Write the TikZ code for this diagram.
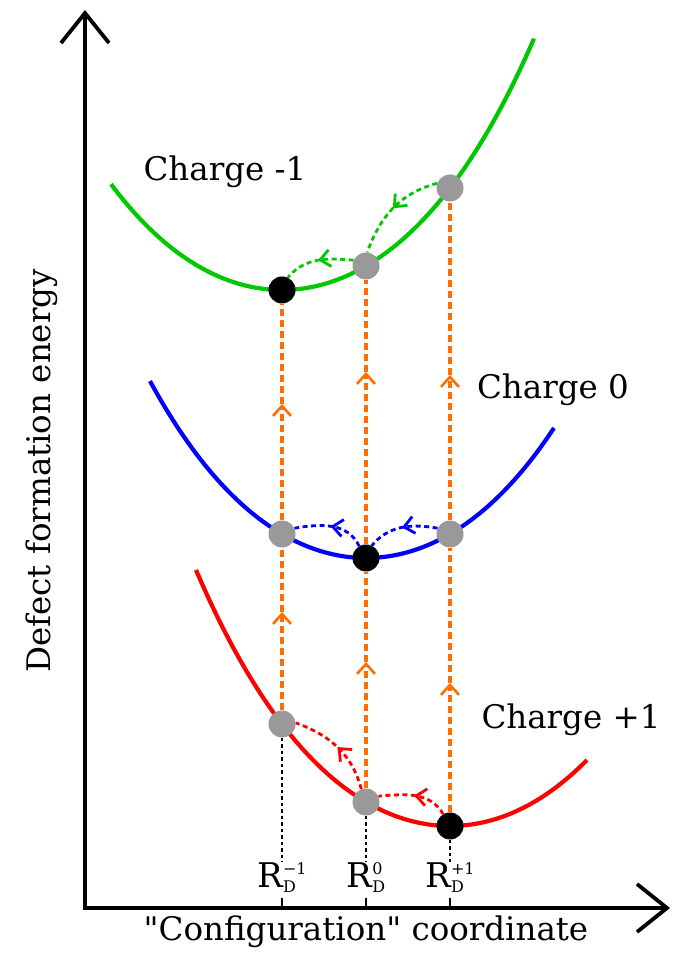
\documentclass[tikz,border=0pt]{standalone}
\usepackage{fontspec}
\setmainfont{DejaVu Serif}[Ligatures=TeXOff]
\usetikzlibrary{arrows.meta,decorations.markings}
\pgfdeclarelayer{bg}
\pgfsetlayers{bg,main}
\definecolor{cgreen}{RGB}{0,200,0}
\definecolor{cblue}{RGB}{0,0,255}
\definecolor{cred}{RGB}{255,0,0}
\definecolor{corange}{RGB}{255,110,0}
\definecolor{cgrey}{RGB}{153,153,153}
\newcommand{\rdl}[1]{R\raisebox{-5pt}{\fontsize{16}{16}\selectfont\shortstack[l]{#1\\[4pt]D}}}
\begin{document}
\begin{tikzpicture}[x=1pt,y=1pt,
 dotk/.style={circle,fill=black,minimum size=27pt,inner sep=0pt},
 dotg/.style={circle,fill=cgrey,minimum size=27pt,inner sep=0pt},
 curve/.style={line width=4.2pt},
 axisln/.style={line width=3.8pt,line join=miter,{Straight Barb[length=30pt,width=48pt]}-{Straight Barb[length=30pt,width=48pt]}},
 odash/.style={corange,line width=3.6pt,dash pattern=on 7pt off 4pt},
 otip/.style={-{Straight Barb[length=10pt,width=18pt,line width=2.6pt]}},
 cdot/.style={line width=2.8pt,dash pattern=on 5pt off 3.5pt,
   postaction={decorate},decoration={markings,mark=at position 0.5 with {\arrow{Straight Barb[length=10pt,width=17pt]}}}},
 kdot/.style={black,line width=2.5pt,dash pattern=on 3.5pt off 3pt},
 lbl/.style={font=\fontsize{32.5}{38}\selectfont},
 rlbl/.style={font=\fontsize{34}{38}\selectfont,inner sep=0pt}
]
\useasboundingbox (0,0) rectangle (673,954);

% dots
\node[dotk] (k1) at (282,664) {};
\node[dotg] (g2) at (366,688) {};
\node[dotg] (g3) at (450,766) {};
\node[dotg] (b1) at (282,420) {};
\node[dotk] (k2) at (366,396) {};
\node[dotg] (b3) at (450,420) {};
\node[dotg] (r1) at (282,230) {};
\node[dotg] (r2) at (366,152) {};
\node[dotk] (k3) at (450,128) {};

% labels
\node[lbl] (c1) at (225,782) {Charge -1};
\node[lbl] (c0) at (553,564) {Charge 0};
\node[lbl] (cp) at (571,234) {Charge +1};
\node[lbl,anchor=base] (xl) at (366,13) {"Configuration" coordinate};
\node[lbl,rotate=90,anchor=base] (yl) at (50,483) {Defect formation energy};
\node[rlbl,anchor=base] (l1) at (282,66) {\rdl{−1}};
\node[rlbl,anchor=base] (l2) at (366,66) {\rdl{0}};
\node[rlbl,anchor=base] (l3) at (450,66) {\rdl{+1}};

\coordinate (O) at (85,46);
\coordinate (yt) at (85,944);
\coordinate (xt) at (670,46);

\coordinate (m1) at (282,342);
\coordinate (m2) at (282,550);
\coordinate (m3) at (366,292);
\coordinate (m4) at (366,582);
\coordinate (m5) at (450,271);
\coordinate (m6) at (450,579);

\begin{pgfonlayer}{bg}
% axes
\draw[axisln] (yt) -- (O) -- (xt);
\foreach \l in {l1,l2,l3}
  \draw[line width=2pt] (\l.south |- O) -- ++(0,10);

% curves
\draw[cgreen,curve] plot[domain=111:534,samples=120]
  (\x,{664+(33.3+0.99*((\x-282)/100)*((\x-282)/100))*((\x-282)/100)*((\x-282)/100)});
\draw[cblue,curve] plot[domain=150:554,samples=120]
  (\x,{396+(33.3+0.99*((\x-366)/100)*((\x-366)/100))*((\x-366)/100)*((\x-366)/100)});
\draw[cred,curve] plot[domain=196:587,samples=120]
  (\x,{128+(33.3+0.99*((\x-450)/100)*((\x-450)/100))*((\x-450)/100)*((\x-450)/100)});

% black dotted drop lines
\draw[kdot] (r1) -- (r1 |- l1.north);
\draw[kdot] (r2) -- (r2 |- l2.north);
\draw[kdot] (k3) -- (k3 |- l3.north);

% orange dashed transitions
\draw[odash,otip] (r1) -- (m1);
\draw[odash] (m1) -- (b1);
\draw[odash,otip] (b1) -- (m2);
\draw[odash] (m2) -- (k1);
\draw[odash,otip] (r2) -- (m3);
\draw[odash] (m3) -- (k2);
\draw[odash,otip] (k2) -- (m4);
\draw[odash] (m4) -- (g2);
\draw[odash,otip] (k3) -- (m5);
\draw[odash] (m5) -- (b3);
\draw[odash,otip] (b3) -- (m6);
\draw[odash] (m6) -- (g3);

% relaxation arrows
\draw[cgreen,cdot] (g3.160) to[out=195,in=70] (g2.85);
\draw[cgreen,cdot] (g2.155) to[out=175,in=50] (k1.65);
\draw[cblue,cdot] (k2.120) to[out=115,in=10] (b1.25);
\draw[cblue,cdot] (b3.155) to[out=170,in=50] (k2.65);
\draw[cred,cdot] (k3.120) to[out=120,in=5] (r2.25);
\draw[cred,cdot] (r2.110) to[out=105,in=-20] (r1.5);
\end{pgfonlayer}
\end{tikzpicture}
\end{document}
